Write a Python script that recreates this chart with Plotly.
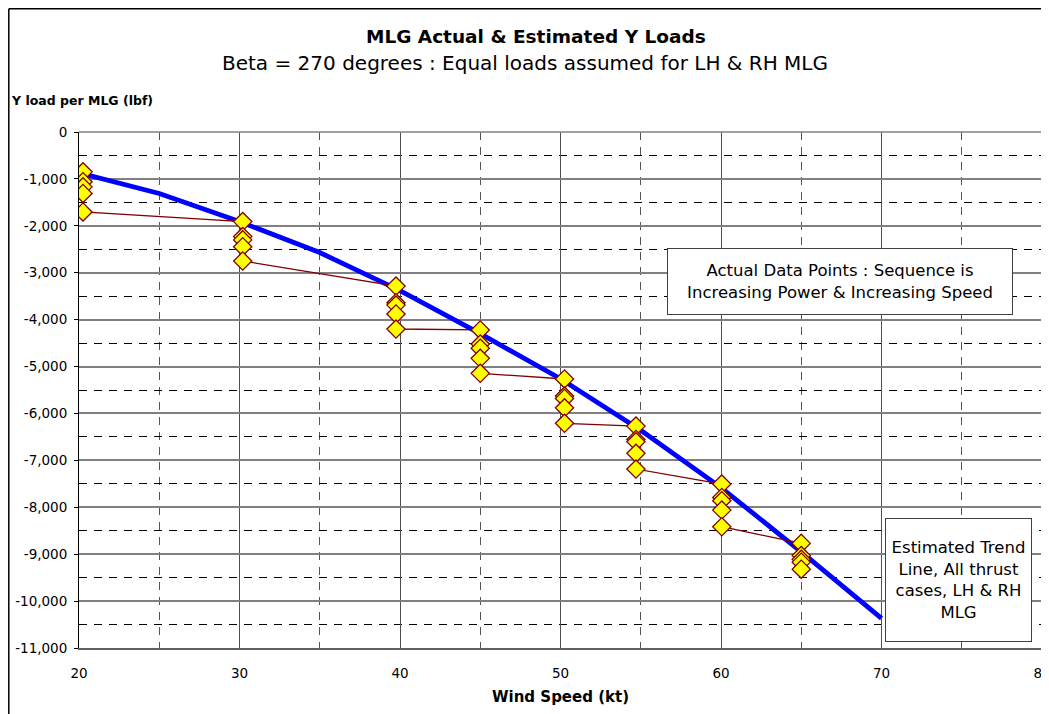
import plotly.graph_objects as go

# ---------------- data ----------------
speed_groups = [20.25, 30.2, 39.75, 45.0, 50.25, 54.7, 60.05, 65.0]
loads_20 = [-850, -1060, -1170, -1310, -1705]
loads_30 = [-1910, -2230, -2300, -2445, -2750]
loads_40 = [-3285, -3640, -3690, -3880, -4200]
loads_45 = [-4220, -4520, -4610, -4825, -5145]
loads_50 = [-5265, -5630, -5680, -5880, -6210]
loads_55 = [-6270, -6555, -6605, -6850, -7185]
loads_60 = [-7505, -7790, -7860, -8060, -8415]
loads_65 = [-8770, -9030, -9110, -9170, -9320]
group_loads = [loads_20, loads_30, loads_40, loads_45, loads_50, loads_55, loads_60, loads_65]

trend_speed = [20, 25, 30, 35, 40, 45, 50, 55, 60, 65, 70]
trend_load = [-870, -1310, -1910, -2570, -3380, -4300, -5260, -6360, -7580, -8950, -10370]

x_ticks = [20, 30, 40, 50, 60, 70, 80]
y_ticks = [0, -1000, -2000, -3000, -4000, -5000, -6000, -7000, -8000, -9000, -10000, -11000]
y_tick_labels = [f"{v:,}" for v in y_ticks]

title = "MLG Actual & Estimated Y Loads"
subtitle = "Beta = 270 degrees : Equal loads assumed for LH & RH MLG"
y_title = "Y load per MLG (lbf)"
x_title = "Wind Speed (kt)"
note_actual = "Actual Data Points : Sequence is<br>Increasing Power & Increasing Speed"
note_trend = "Estimated Trend<br>Line, All thrust<br>cases, LH & RH<br>MLG"

# build the actual-data series from the groups
xs, ys = [], []
for s, ls in zip(speed_groups, group_loads):
    for v in ls:
        xs.append(s)
        ys.append(v)

FONT = "DejaVu Sans"
OFF = 8                      # page body margin
W, H = 1049 - OFF, 714 - OFF
# plot area in screen pixels (reference)
SL, SR, ST, SB = 79, 1042, 132, 648
L, R, T, B = SL - OFF, SR - OFF, ST - OFF, SB - OFF


def px(xs_):
    return (xs_ - SL) / (SR - SL)


def py(ys_):
    return (SB - ys_) / (SB - ST)


fig = go.Figure()
fig.add_trace(go.Scatter(
    x=trend_speed, y=trend_load, mode="lines",
    line=dict(color="#0000FF", width=4.8), showlegend=False, hoverinfo="skip"))
fig.add_trace(go.Scatter(
    x=xs, y=ys, mode="lines+markers",
    line=dict(color="#800000", width=1.3),
    marker=dict(symbol="diamond", size=14, color="#FFFF00",
                line=dict(color="#800000", width=1.3)),
    showlegend=False))

fig.update_layout(
    width=W, height=H, autosize=False,
    margin=dict(l=L, r=W - R, t=T, b=H - B, pad=0, autoexpand=False),
    paper_bgcolor="white", plot_bgcolor="white",
    font=dict(family=FONT, size=13.5, color="black"),
    showlegend=False,
)

fig.update_xaxes(
    range=[20, 80], tickmode="array", tickvals=x_ticks, ticktext=[str(v) for v in x_ticks],
    showgrid=True, gridcolor="#505050", gridwidth=1,
    minor=dict(dtick=5, tick0=0, showgrid=True, gridcolor="#555555",
               griddash="8px,7px", gridwidth=1),
    showline=True, linecolor="#606060", linewidth=2,
    ticks="", zeroline=False, tickfont=dict(size=13.5), ticklabelstandoff=12,
    ticklabeloverflow="allow", automargin=False,
)
fig.update_yaxes(
    range=[-11000, 0], tickmode="array", tickvals=y_ticks, ticktext=y_tick_labels,
    showgrid=True, gridcolor="#808080", gridwidth=1.5,
    minor=dict(dtick=500, tick0=0, showgrid=True, gridcolor="#000000",
               griddash="8px,7px", gridwidth=1),
    showline=True, linecolor="#000000", linewidth=1,
    ticks="outside", ticklen=4, tickcolor="black", tickwidth=1,
    zeroline=False, tickfont=dict(size=13.5), ticklabelstandoff=4, automargin=False,
)

shapes = [
    # plot area top & right border
    dict(type="line", xref="paper", yref="paper", x0=0, x1=1, y0=1, y1=1,
         line=dict(color="#808080", width=1.5), layer="above"),
    dict(type="line", xref="paper", yref="paper", x0=1, x1=1, y0=0, y1=1,
         line=dict(color="#808080", width=1.5), layer="above"),
    # outer chart frame (left & top)
    dict(type="line", xref="paper", yref="paper", x0=px(8.8), x1=px(8.8), y0=py(714), y1=py(8.8),
         line=dict(color="black", width=1.5), layer="above"),
    dict(type="line", xref="paper", yref="paper", x0=px(8.8), x1=px(1049), y0=py(8.8), y1=py(8.8),
         line=dict(color="black", width=1.5), layer="above"),
]
fig.update_layout(shapes=shapes)

annotations = [
    dict(text=f"<b>{title}</b>", x=px(536), y=py(37), xref="paper", yref="paper",
         showarrow=False, xanchor="center", yanchor="middle",
         font=dict(family=FONT, size=18.5, color="black")),
    dict(text=subtitle, x=px(525), y=py(63), xref="paper", yref="paper",
         showarrow=False, xanchor="center", yanchor="middle",
         font=dict(family=FONT, size=20, color="black")),
    dict(text=f"<b>{y_title}</b>", x=px(9), y=py(101), xref="paper", yref="paper",
         showarrow=False, xanchor="left", yanchor="middle",
         font=dict(family=FONT, size=12.5, color="black")),
    dict(text=f"<b>{x_title}</b>", x=px(560), y=py(697), xref="paper", yref="paper",
         showarrow=False, xanchor="center", yanchor="middle",
         font=dict(family=FONT, size=15, color="black")),
    dict(text=note_actual, x=px(840), y=py(281.5), xref="paper", yref="paper",
         showarrow=False, xanchor="center", yanchor="middle",
         width=344, height=65, align="center", valign="middle",
         bordercolor="#404040", borderwidth=1, borderpad=0, bgcolor="white",
         font=dict(family=FONT, size=16.5, color="black")),
    dict(text=note_trend, x=px(958.5), y=py(580), xref="paper", yref="paper",
         showarrow=False, xanchor="center", yanchor="middle",
         width=145, height=122, align="center", valign="middle",
         bordercolor="#404040", borderwidth=1, borderpad=0, bgcolor="white",
         font=dict(family=FONT, size=16.5, color="black")),
]
fig.update_layout(annotations=annotations)

fig.write_html("out.html")
